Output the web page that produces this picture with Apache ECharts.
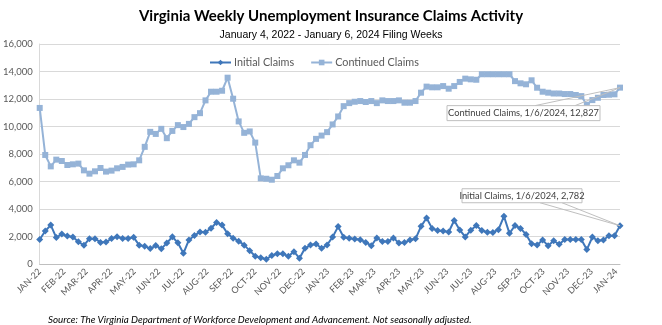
<!DOCTYPE html>
<html>
<head>
<meta charset="utf-8">
<script src="https://cdn.jsdelivr.net/npm/echarts@6/dist/echarts.min.js"></script>
<style>html,body{margin:0;padding:0;background:#fff;}#c{width:662px;height:325px;}</style>
</head>
<body>
<div id="c"></div>
<script>
// Week-ending dates: first week ending Jan 1 2022, weekly through Jan 6 2024
const firstWeek = [2022, 0, 1];
const initialClaims = [
  1780, 2400, 2830, 1920, 2180, 2030, 1960, 1620, 1360, 1840,
  1840, 1570, 1600, 1850, 1990, 1850, 1850, 1940, 1370, 1300,
  1120, 1340, 1110, 1520, 1980, 1540, 780, 1750, 2070, 2330,
  2310, 2600, 3020, 2830, 2200, 1880, 1660, 1370, 970, 560,
  460, 350, 620, 740, 740, 570, 900, 420, 1140, 1380,
  1460, 1140, 1380, 1970, 2720, 1940, 1870, 1820, 1770, 1570,
  1330, 1900, 1630, 1630, 1900, 1530, 1560, 1750, 1830, 2740,
  3350, 2590, 2440, 2400, 2330, 3160, 2480, 1970, 2460, 2800,
  2440, 2310, 2300, 2500, 3470, 2230, 2800, 2590, 2150, 1480,
  1390, 1750, 1320, 1690, 1430, 1780, 1780, 1780, 1780, 1050,
  1960, 1690, 1750, 2050, 2060, 2782
];
const continuedClaims = [
  11350, 7930, 7100, 7590, 7490, 7200, 7250, 7300, 6810, 6570,
  6740, 6980, 6720, 6790, 6960, 7060, 7230, 7250, 7540, 8520,
  9610, 9460, 9830, 9150, 9680, 10100, 9960, 10190, 10680, 10970,
  11900, 12530, 12530, 12600, 13550, 12020, 10370, 9540, 9640, 8830,
  6230, 6200, 6130, 6400, 6960, 7180, 7540, 7370, 7930, 8640,
  9100, 9340, 9590, 10150, 10730, 11480, 11700, 11800, 11850, 11780,
  11850, 11700, 11900, 11850, 11850, 11900, 11730, 11730, 11850, 12460,
  12900, 12850, 12850, 12940, 12750, 12940, 13240, 13480, 13430, 13400,
  13800, 13800, 13800, 13800, 13800, 13800, 13300, 13140, 13070, 13360,
  12820, 12530, 12460, 12400, 12400, 12360, 12360, 12290, 12210, 11580,
  11920, 12090, 12290, 12310, 12340, 12827
];
const monthNames = ['JAN','FEB','MAR','APR','MAY','JUN','JUL','AUG','SEP','OCT','NOV','DEC'];
const monthCount = 25; // JAN-22 .. JAN-24
const yTicks = [0, 2000, 4000, 6000, 8000, 10000, 12000, 14000, 16000];

const weeks = initialClaims.map((_, i) => new Date(firstWeek[0], firstWeek[1], firstWeek[2] + 7 * i).getTime());
const monthTicks = [];
for (let m = 0; m < monthCount; m++) monthTicks.push(new Date(2022, m, 1).getTime());

const initialData = weeks.map((t, i) => [t, initialClaims[i]]);
const continuedData = weeks.map((t, i) => [t, continuedClaims[i]]);

const chart = echarts.init(document.getElementById('c'));
const fmt = v => v.toLocaleString('en-US');
chart.setOption({
  animation: false,
  backgroundColor: '#ffffff',
  title: [
    { text: 'Virginia Weekly Unemployment Insurance Claims Activity', left: 'center', top: 4,
      textStyle: { fontFamily: 'Lato', fontWeight: 'bold', fontSize: 15, color: '#000' } },
    { text: 'January 4, 2022 - January 6, 2024 Filing Weeks', left: 'center', top: 25,
      textStyle: { fontFamily: '"Liberation Sans Narrow", "Liberation Sans"', fontWeight: 'normal', fontSize: 10.5, color: '#000' } },
    { text: 'Source: The Virginia Department of Workforce Development and Advancement. Not seasonally adjusted.', left: 43, top: 310,
      textStyle: { fontFamily: 'Lato', fontStyle: 'italic', fontWeight: 'normal', fontSize: 9.8, color: '#000' } }
  ],
  legend: {
    top: 52, left: 204,
    itemWidth: 21, itemHeight: 7, itemGap: 16,
    textStyle: { fontFamily: 'Lato', fontSize: 10.8, color: '#595959', padding: [0, 0, 0, -2] },
    data: ['Initial Claims', 'Continued Claims']
  },
  grid: { left: 39, right: 42, top: 44, bottom: 61 },
  xAxis: {
    type: 'value',
    min: weeks[0], max: weeks[weeks.length - 1],
    axisLine: { show: true, lineStyle: { color: '#bfbfbf', width: 1 } },
    axisTick: { show: false },
    splitLine: { show: false },
    axisLabel: {
      customValues: monthTicks,
      rotate: 45,
      fontFamily: 'Lato', fontSize: 9, color: '#595959', margin: 6,
      formatter: v => { const d = new Date(v); return monthNames[d.getMonth()] + '-' + String(d.getFullYear()).slice(2); }
    }
  },
  yAxis: {
    type: 'value', min: yTicks[0], max: yTicks[yTicks.length - 1], interval: yTicks[1] - yTicks[0],
    axisLine: { show: true, lineStyle: { color: '#d9d9d9' } },
    axisTick: { show: false },
    splitLine: { lineStyle: { color: '#d9d9d9', width: 1 } },
    axisLabel: { fontFamily: 'Lato', fontSize: 9.5, color: '#595959', margin: 7, formatter: fmt }
  },
  series: [
    { name: 'Initial Claims', type: 'line', data: initialData,
      symbol: 'diamond', symbolSize: 7, showAllSymbol: true,
      lineStyle: { color: '#3F77BA', width: 2 }, itemStyle: { color: '#3F77BA' } },
    { name: 'Continued Claims', type: 'line', data: continuedData,
      symbol: 'rect', symbolSize: 6, showAllSymbol: true,
      lineStyle: { color: '#95B3D7', width: 2 }, itemStyle: { color: '#95B3D7' } }
  ]
});

function callout(p, text, dx, dy, w, h, anchorA, anchorB) {
  const bx = p[0] + dx, by = p[1] + dy;
  const ay = dy > 0 ? by : by + h;
  return [
    { type: 'line', shape: { x1: bx + anchorA, y1: ay, x2: p[0], y2: p[1] }, style: { stroke: '#bfbfbf', lineWidth: 1 }, z: 10 },
    { type: 'line', shape: { x1: bx + anchorB, y1: ay, x2: p[0], y2: p[1] }, style: { stroke: '#bfbfbf', lineWidth: 1 }, z: 10 },
    { type: 'rect', shape: { x: bx, y: by, width: w, height: h }, style: { fill: '#fff', stroke: '#bfbfbf', lineWidth: 1 }, z: 11 },
    { type: 'text', x: bx + w / 2, y: by + h / 2, z: 12,
      style: { text: text, align: 'center', verticalAlign: 'middle', font: '9.3px Lato', fill: '#404040' } }
  ];
}
const last = weeks.length - 1;
const pC = chart.convertToPixel({ seriesIndex: 1 }, continuedData[last]);
const pI = chart.convertToPixel({ seriesIndex: 0 }, initialData[last]);
chart.setOption({
  graphic: [].concat(
    callout(pC, 'Continued Claims, 1/6/2024, ' + fmt(continuedClaims[last]), -173, 18, 153, 15, 88, 128),
    callout(pI, 'Initial Claims, 1/6/2024, ' + fmt(initialClaims[last]), -158, -37, 120, 14, 78, 100)
  )
});
</script>
</body>
</html>
